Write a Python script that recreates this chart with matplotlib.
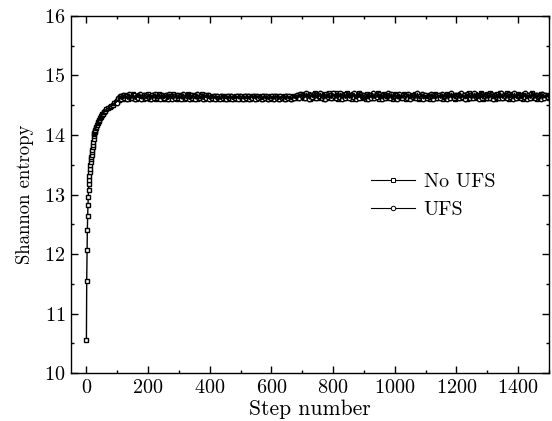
import numpy as np
import matplotlib
matplotlib.use("Agg")
import matplotlib.pyplot as plt
from matplotlib.lines import Line2D

plt.rcParams['font.family'] = 'cmr10'
plt.rcParams['axes.formatter.use_mathtext'] = True
plt.rcParams['mathtext.fontset'] = 'cm'

# No UFS: transient read step by step, then plateau every 5 steps
steps_a = (list(range(0, 31)) + list(range(32, 61, 2)) + list(range(65, 101, 5))
           + list(range(105, 1501, 5)))
entropy_a = [10.55, 11.55, 12.06, 12.40, 12.64, 12.82, 12.96, 13.08, 13.17, 13.24, 13.31,
             13.37, 13.43, 13.49, 13.54, 13.59, 13.63, 13.67, 13.71, 13.75, 13.80,
             13.84, 13.89, 13.94, 13.98, 14.01, 14.03, 14.05, 14.07, 14.09, 14.11,
             14.14, 14.17, 14.20, 14.22, 14.24, 14.26, 14.28, 14.30, 14.32, 14.33,
             14.35, 14.36, 14.38, 14.39, 14.40,
             14.43, 14.45, 14.47, 14.49, 14.51, 14.53, 14.55, 14.57,
             # plateau 105-1500
             14.59, 14.63, 14.66, 14.61, 14.68, 14.64, 14.60, 14.67, 14.62, 14.69,
             14.63, 14.61, 14.66, 14.68, 14.62, 14.65, 14.60, 14.67, 14.63, 14.69,
             14.61, 14.66, 14.63, 14.68, 14.60, 14.65, 14.69, 14.62, 14.67, 14.61,
             14.64, 14.68, 14.60, 14.66, 14.63, 14.69, 14.62, 14.65, 14.61, 14.67,
             14.63, 14.68, 14.60, 14.66, 14.62, 14.69, 14.64, 14.61, 14.67, 14.63,
             14.68, 14.60, 14.65, 14.62, 14.69, 14.61, 14.66, 14.63, 14.68, 14.62,
             14.61, 14.65, 14.63, 14.66, 14.60, 14.64, 14.62, 14.66, 14.61, 14.65,
             14.63, 14.60, 14.66, 14.62, 14.64, 14.61, 14.65, 14.63, 14.66, 14.60,
             14.62, 14.65, 14.61, 14.66, 14.63, 14.60, 14.65, 14.62, 14.66, 14.61,
             14.64, 14.63, 14.66, 14.60, 14.65, 14.62, 14.64, 14.61, 14.66, 14.63,
             14.60, 14.65, 14.62, 14.66, 14.61, 14.64, 14.63, 14.66, 14.60, 14.65,
             14.62, 14.64, 14.61, 14.66, 14.63, 14.65, 14.62, 14.68, 14.64, 14.69,
             14.62, 14.67, 14.64, 14.69, 14.61, 14.68, 14.63, 14.70, 14.65, 14.62,
             14.68, 14.64, 14.69, 14.61, 14.67, 14.63, 14.70, 14.65, 14.62, 14.68,
             14.64, 14.70, 14.61, 14.67, 14.63, 14.69, 14.65, 14.62, 14.70, 14.64,
             14.68, 14.61, 14.69, 14.63, 14.67, 14.65, 14.70, 14.62, 14.68, 14.64,
             14.61, 14.69, 14.63, 14.67, 14.65, 14.62, 14.68, 14.64, 14.70, 14.61,
             14.67, 14.63, 14.69, 14.65, 14.62, 14.68, 14.64, 14.67, 14.61, 14.69,
             14.63, 14.68, 14.62, 14.66, 14.64, 14.69, 14.61, 14.67, 14.63, 14.68,
             14.65, 14.62, 14.69, 14.64, 14.66, 14.61, 14.68, 14.63, 14.67, 14.62,
             14.65, 14.68, 14.61, 14.67, 14.63, 14.69, 14.62, 14.66, 14.64, 14.68,
             14.60, 14.67, 14.63, 14.69, 14.62, 14.66, 14.64, 14.68, 14.61, 14.67,
             14.63, 14.69, 14.62, 14.67, 14.64, 14.68, 14.61, 14.70, 14.63, 14.66,
             14.65, 14.69, 14.62, 14.68, 14.64, 14.70, 14.61, 14.67, 14.63, 14.69,
             14.62, 14.70, 14.64, 14.68, 14.61, 14.69, 14.63, 14.70, 14.65, 14.62,
             14.68, 14.64, 14.70, 14.61, 14.69, 14.63, 14.67, 14.65, 14.62, 14.69,
             14.64, 14.68, 14.61, 14.69, 14.63, 14.67, 14.65, 14.62, 14.70, 14.64,
             14.68, 14.61, 14.67, 14.63, 14.69, 14.62, 14.66, 14.64, 14.68, 14.62]

# UFS: from step 100, every 5 steps (offset by 3)
steps_b = [100] + list(range(103, 1500, 5))
entropy_b = [14.53,
             14.62, 14.66, 14.60, 14.68, 14.63, 14.65, 14.61, 14.69, 14.64, 14.62,
             14.67, 14.60, 14.66, 14.63, 14.69, 14.61, 14.65, 14.68, 14.62, 14.66,
             14.64, 14.60, 14.67, 14.62, 14.69, 14.63, 14.66, 14.61, 14.68, 14.64,
             14.62, 14.67, 14.60, 14.69, 14.65, 14.61, 14.66, 14.63, 14.68, 14.62,
             14.66, 14.61, 14.69, 14.64, 14.62, 14.67, 14.60, 14.68, 14.63, 14.65,
             14.61, 14.69, 14.64, 14.62, 14.66, 14.60, 14.68, 14.63, 14.67, 14.61,
             14.64, 14.62, 14.66, 14.61, 14.65, 14.63, 14.60, 14.66, 14.62, 14.64,
             14.61, 14.65, 14.63, 14.66, 14.60, 14.64, 14.62, 14.65, 14.61, 14.66,
             14.63, 14.61, 14.65, 14.62, 14.66, 14.60, 14.64, 14.63, 14.65, 14.61,
             14.66, 14.62, 14.64, 14.60, 14.65, 14.63, 14.66, 14.61, 14.64, 14.62,
             14.65, 14.61, 14.66, 14.63, 14.60, 14.65, 14.62, 14.64, 14.61, 14.66,
             14.63, 14.65, 14.60, 14.64, 14.62, 14.66, 14.67, 14.63, 14.69, 14.65,
             14.68, 14.63, 14.70, 14.65, 14.61, 14.67, 14.64, 14.69, 14.62, 14.68,
             14.65, 14.70, 14.63, 14.66, 14.61, 14.69, 14.64, 14.67, 14.62, 14.70,
             14.66, 14.62, 14.68, 14.64, 14.70, 14.61, 14.67, 14.63, 14.69, 14.65,
             14.62, 14.68, 14.64, 14.70, 14.61, 14.66, 14.63, 14.69, 14.65, 14.67,
             14.64, 14.66, 14.61, 14.68, 14.63, 14.70, 14.62, 14.67, 14.64, 14.69,
             14.65, 14.61, 14.68, 14.63, 14.66, 14.70, 14.62, 14.69, 14.64, 14.66,
             14.67, 14.61, 14.69, 14.64, 14.62, 14.68, 14.65, 14.63, 14.69, 14.61,
             14.66, 14.64, 14.68, 14.62, 14.70, 14.63, 14.65, 14.69, 14.61, 14.67,
             14.62, 14.66, 14.64, 14.69, 14.61, 14.68, 14.65, 14.63, 14.67, 14.62,
             14.69, 14.64, 14.66, 14.61, 14.68, 14.63, 14.70, 14.65, 14.62, 14.68,
             14.65, 14.62, 14.70, 14.64, 14.67, 14.61, 14.69, 14.65, 14.63, 14.68,
             14.62, 14.70, 14.64, 14.66, 14.61, 14.69, 14.63, 14.68, 14.65, 14.62,
             14.67, 14.63, 14.69, 14.61, 14.68, 14.64, 14.66, 14.62, 14.70, 14.63,
             14.67, 14.65, 14.62, 14.69, 14.64, 14.68, 14.61, 14.70, 14.63, 14.66,
             14.68, 14.62, 14.66, 14.64, 14.70, 14.61, 14.67, 14.63, 14.69, 14.65,
             14.62, 14.68, 14.64, 14.66, 14.61, 14.69, 14.63, 14.67, 14.65, 14.64]

x_ticks = [0, 200, 400, 600, 800, 1000, 1200, 1400]
y_ticks = [10, 11, 12, 13, 14, 15, 16]

fig = plt.figure(figsize=(5.52, 4.21), dpi=100)
ax = fig.add_axes([0.1286, 0.114, 0.866, 0.848])

style = dict(color='black', linewidth=1.0, markersize=3.2, markerfacecolor='white',
             markeredgecolor='black', markeredgewidth=1.0)
ax.plot(steps_a, entropy_a, marker='s', zorder=2, **style)
ax.plot(steps_b, entropy_b, marker='o', zorder=2, **style)

# the dense part of both runs: connecting line drawn over the markers
k = steps_a.index(30)
ax.plot(steps_a[k:], entropy_a[k:], color='black', linewidth=1.2, zorder=3)
ax.plot(steps_b[1:], entropy_b[1:], color='black', linewidth=1.2, zorder=3)

ax.set_xlim(-50, 1500)
ax.set_ylim(10, 16)
ax.set_xticks(x_ticks)
ax.set_yticks(y_ticks)
ax.set_xticks(np.arange(0, 1501, 100), minor=True)
ax.set_yticks(np.arange(10, 16.01, 0.5), minor=True)
ax.tick_params(which='both', direction='in', top=True, right=True, labelsize=14.5)
ax.tick_params(which='major', length=5, width=1, pad=4)
ax.tick_params(which='minor', length=2.5, width=1)
for s in ax.spines.values():
    s.set_linewidth(1)

ax.set_xlabel('Step number', fontsize=15.5, labelpad=2)
ax.set_ylabel('Shannon entropy', fontsize=13.5, labelpad=7)

leg_style = dict(color='black', linewidth=0.8, markersize=3.2, markerfacecolor='white',
                 markeredgecolor='black', markeredgewidth=0.7)
handles = [Line2D([], [], marker='s', **leg_style), Line2D([], [], marker='o', **leg_style)]
ax.legend(handles, ['No UFS', 'UFS'], loc='upper left', bbox_to_anchor=(0.59, 0.612),
          frameon=False, fontsize=14.5, handlelength=2.2, handletextpad=0.4,
          labelspacing=0.5)

fig.savefig('out.png', dpi=100)
